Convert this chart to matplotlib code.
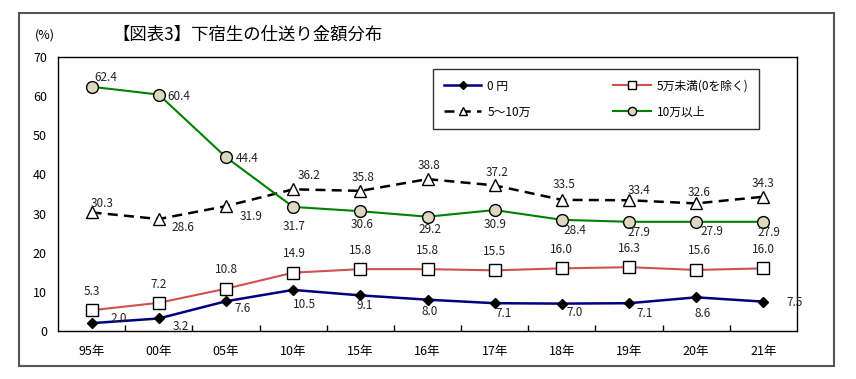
import matplotlib.pyplot as plt
from matplotlib.patches import Rectangle

plt.rcParams['font.family'] = ['Noto Sans CJK JP', 'DejaVu Sans']

years = ['95年', '00年', '05年', '10年', '15年', '16年', '17年', '18年', '19年', '20年', '21年']
zero_yen = [2.0, 3.2, 7.6, 10.5, 9.1, 8.0, 7.1, 7.0, 7.1, 8.6, 7.5]
under_5 = [5.3, 7.2, 10.8, 14.9, 15.8, 15.8, 15.5, 16.0, 16.3, 15.6, 16.0]
from_5_to_10 = [30.3, 28.6, 31.9, 36.2, 35.8, 38.8, 37.2, 33.5, 33.4, 32.6, 34.3]
over_10 = [62.4, 60.4, 44.4, 31.7, 30.6, 29.2, 30.9, 28.4, 27.9, 27.9, 27.9]

# label offsets in pixels (dx, dy), dy positive = up
off_zero = [(27, 5), (22, -8), (17, -7), (11, -15), (4, -10), (2, -12), (9, -10), (13, -9), (16, -10), (6, -16), (31, -1)]
off_under = [(0, 19), (0, 18), (0, 19), (1, 19), (0, 19), (0, 19), (0, 19), (0, 19), (0, 19), (3, 19), (0, 19)]
off_mid = [(11, 9), (24, -8), (25, -10), (16, 14), (3, 13), (2, 14), (2, 13), (2, 15), (10, 10), (3, 11), (0, 13)]
off_over = [(14, 9), (20, -2), (21, -1), (1, -20), (2, -13), (2, -13), (0, -14), (13, -11), (10, -11), (16, -10), (6, -11)]

fig = plt.figure(figsize=(8.56, 3.79), dpi=100)
fig.patches.append(Rectangle((19 / 856, 1 - 366 / 379), 815 / 856, 353 / 379,
                             transform=fig.transFigure, fill=False,
                             edgecolor='#555555', linewidth=1.5))
ax = fig.add_axes([58 / 856, 1 - 331 / 379, 739 / 856, 274 / 379])

x = range(len(years))
l0, = ax.plot(x, zero_yen, color='#000080', lw=1.8, marker='D', ms=5.5,
              mfc='black', mec='black', label='0 円', zorder=5)
l1, = ax.plot(x, under_5, color='#D05050', lw=1.5, marker='s', ms=8,
              mfc='white', mec='black', mew=1.0, label='5万未満(0を除く)', zorder=4)
l2, = ax.plot(x, from_5_to_10, color='black', lw=1.8, ls=(0, (4, 2.5)), marker='^', ms=8,
              mfc='white', mec='black', mew=1.0, label='5～10万', zorder=3)
l3, = ax.plot(x, over_10, color='#008000', lw=1.5, marker='o', ms=8.5,
              mfc='#DDD8C0', mec='black', mew=1.0, label='10万以上', zorder=4)

for vals, offs in [(zero_yen, off_zero), (under_5, off_under),
                   (from_5_to_10, off_mid), (over_10, off_over)]:
    for i, (v, o) in enumerate(zip(vals, offs)):
        ax.annotate(f'{v:.1f}', (i, v), xytext=o, textcoords='offset pixels',
                    ha='center', va='center', fontsize=8.5, color='#222222',
                    zorder=6, annotation_clip=False)

ax.set_xlim(-0.5, len(years) - 0.5)
ax.set_ylim(0, 70)
ax.set_yticks(range(0, 71, 10))
ax.set_xticks(list(x))
ax.set_xticklabels(years, fontsize=9)
ax.set_xticks([i + 0.5 for i in range(len(years) - 1)], minor=True)
ax.tick_params(axis='x', which='major', length=0, pad=10)
ax.tick_params(axis='x', which='minor', direction='in', length=4, width=1)
ax.tick_params(axis='y', length=0, pad=8, labelsize=9)
for s in ax.spines.values():
    s.set_linewidth(1.0)

leg = ax.legend([l0, l2, l1, l3], [l0.get_label(), l2.get_label(), l1.get_label(), l3.get_label()],
                ncol=2, loc='upper left',
                bbox_to_anchor=((433 - 58) / 739, (331 - 69) / 274),
                borderaxespad=0, frameon=True, fancybox=False, edgecolor='black',
                fontsize=8.5, handlelength=3.2, handletextpad=0.5,
                columnspacing=7.0, labelspacing=1.1,
                borderpad=0.9, markerscale=0.7)
leg.get_frame().set_linewidth(1.0)

fig.text(35 / 856, 1 - 35 / 379, '(%)', fontsize=9, ha='left', va='center')
fig.text(112 / 856, 1 - 35 / 379, '【図表3】下宿生の仕送り金額分布', fontsize=12.5,
         ha='left', va='center')

fig.savefig('out.png', dpi=100)
